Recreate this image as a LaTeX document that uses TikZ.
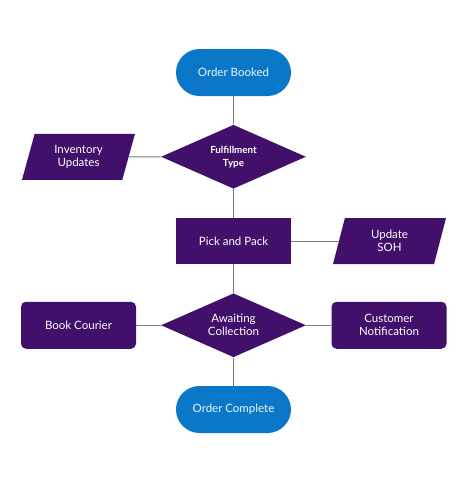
\documentclass[tikz,border=0pt]{standalone}
\usepackage{fontspec}
\setmainfont{Lato}
\usetikzlibrary{shapes.geometric,positioning}

\definecolor{flowpurple}{HTML}{41106A}
\definecolor{flowblue}{HTML}{0A77C9}
\definecolor{flowline}{HTML}{7A7A7A}

\begin{document}
\begin{tikzpicture}[-,thick,node distance=84.25pt,
    every node/.style={font=\fontsize{11.5}{13}\selectfont,text=white,align=center,inner sep=2pt},
    term node/.style={rectangle,rounded corners=23.5pt,fill=flowblue,text=cyan!8,minimum width=115pt,minimum height=47pt},
    step node/.style={rectangle,fill=flowpurple,minimum width=115pt,minimum height=46pt},
    soft node/.style={rectangle,rounded corners=5pt,fill=flowpurple,minimum width=115pt,minimum height=47pt},
    io node/.style={trapezium,trapezium left angle=65,trapezium right angle=115,trapezium stretches body,fill=flowpurple,minimum width=113pt,minimum height=46pt},
    choice node/.style={diamond,fill=flowpurple,aspect=2.27,inner sep=0pt,minimum width=145pt,minimum height=64pt}]

\useasboundingbox (0,0) rectangle (468pt,-485pt);

\node[term node] (ob) at (233.5pt,-72.5pt) {Order Booked};
\node[choice node] (ft) [below of=ob] {\fontsize{9.8}{11.5}\selectfont\bfseries Fulfillment\\\fontsize{9.8}{11.5}\selectfont\bfseries Type};
\node[io node] (inv) [left of=ft, node distance=155pt] {Inventory\\Updates};
\node[step node] (pp) [below of=ft] {Pick and Pack};
\node[io node] (soh) [right of=pp, node distance=156pt] {Update\\SOH};
\node[choice node] (ac) [below of=pp] {Awaiting\\Collection};
\node[soft node] (bc) [left of=ac, node distance=155pt] {Book Courier};
\node[soft node] (cn) [right of=ac, node distance=155.5pt] {Customer\\Notification};
\node[term node] (oc) [below of=ac] {Order Complete};

\path[draw=flowline,line width=1pt]
(ob) edge (ft)
(ft) edge (inv)
(ft) edge (pp)
(pp) edge (soh)
(pp) edge (ac)
(ac) edge (bc)
(ac) edge (cn)
(ac) edge (oc)
;

\end{tikzpicture}
\end{document}
